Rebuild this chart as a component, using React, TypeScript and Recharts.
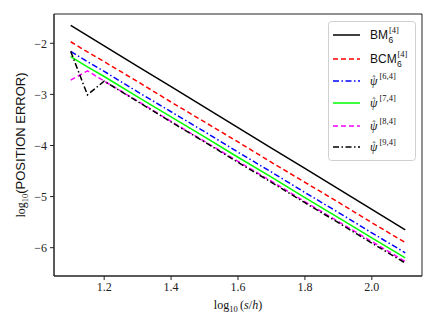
import React from "react";
import { LineChart, Line, XAxis, YAxis, ReferenceArea, Label } from "recharts";

// log10(s/h) sample points
const xs = [1.1, 1.15, 1.2, 1.3, 1.4, 1.5, 1.6, 1.7, 1.8, 1.9, 2.0, 2.1];

// log10(position error) per method
const bm = [-1.65, -1.85, -2.05, -2.45, -2.85, -3.25, -3.65, -4.05, -4.45, -4.85, -5.25, -5.65];
const bcm = [-1.97, -2.17, -2.36, -2.75, -3.15, -3.54, -3.93, -4.33, -4.72, -5.11, -5.51, -5.9];
const psi6 = [-2.16, -2.36, -2.55, -2.95, -3.34, -3.73, -4.13, -4.52, -4.92, -5.31, -5.71, -6.1];
const psi7 = [-2.26, -2.46, -2.65, -3.05, -3.44, -3.83, -4.23, -4.62, -5.02, -5.41, -5.81, -6.2];
const psi8 = [-2.72, -2.54, -2.74, -3.13, -3.53, -3.92, -4.31, -4.7, -5.1, -5.49, -5.88, -6.27];
const psi9 = [-2.16, -3.01, -2.74, -3.14, -3.54, -3.93, -4.33, -4.72, -5.12, -5.51, -5.91, -6.3];

const xTicks = [1.2, 1.4, 1.6, 1.8, 2.0];
const yTicks = [-6, -5, -4, -3, -2];

const SERIF = "'Liberation Serif', serif";
const SANS = "'Liberation Sans', sans-serif";

type Series = {
  key: string;
  color: string;
  dash?: string;
  values: number[];
  base: string; // main legend text
  sub?: string;
  sup: string;
  math: boolean;
};

const series: Series[] = [
  { key: "bm", color: "#000000", values: bm, base: "BM", sub: "6", sup: "[4]", math: false },
  { key: "bcm", color: "#ff0000", dash: "5 3", values: bcm, base: "BCM", sub: "6", sup: "[4]", math: false },
  { key: "psi6", color: "#0000ff", dash: "6 2.5 1.5 2.5", values: psi6, base: "ψ", sup: "[6,4]", math: true },
  { key: "psi7", color: "#00ff00", values: psi7, base: "ψ", sup: "[7,4]", math: true },
  { key: "psi8", color: "#ff00ff", dash: "5 3", values: psi8, base: "ψ", sup: "[8,4]", math: true },
  { key: "psi9", color: "#000000", dash: "6 2.5 1.5 2.5", values: psi9, base: "ψ", sup: "[9,4]", math: true },
];

const rows = xs.map((x, i) => {
  const r: Record<string, number> = { x };
  series.forEach((s) => (r[s.key] = s.values[i]));
  return r;
});

const fmtMinus = (v: number) => String(v).replace("-", "\u2212");

function XTitle(props: any) {
  const vb = props.viewBox || { x: 54, y: 276, width: 368 };
  return (
    <text x={vb.x + vb.width / 2} y={vb.y + 33} textAnchor="middle" fontFamily={SERIF} fontSize={12} fill="#111">
      <tspan>log</tspan>
      <tspan fontSize={8.5} dy={3}>10</tspan>
      <tspan dy={-3}>{"\u2009("}</tspan>
      <tspan fontStyle="italic">s</tspan>
      <tspan>/</tspan>
      <tspan fontStyle="italic">h</tspan>
      <tspan>)</tspan>
    </text>
  );
}

function YTitle(props: any) {
  const vb = props.viewBox || { x: 0, y: 14, height: 262 };
  const cx = 25;
  const cy = vb.y + vb.height / 2;
  return (
    <text x={cx} y={cy} textAnchor="middle" transform={`rotate(-90, ${cx}, ${cy})`} fontSize={12} fill="#111">
      <tspan fontFamily={SERIF}>log</tspan>
      <tspan fontFamily={SERIF} fontSize={8.5} dy={3}>10</tspan>
      <tspan fontFamily={SANS} fontSize={13} dy={-3}>(POSITION ERROR)</tspan>
    </text>
  );
}

// legend rows (centre y, relative to the legend box)
const legendY = [14, 38, 60, 82, 105, 126];

function LegendBox() {
  return (
    <svg width={88} height={140} style={{ position: "absolute", left: 328, top: 21 }}>
      <rect x={0.5} y={0.5} width={87} height={139} rx={3} fill="rgba(255,255,255,0.85)" stroke="#d0d0d0" />
      {series.map((s, i) => {
        const y = legendY[i];
        const baseW = s.math ? 9 : s.base.length === 2 ? 18.5 : 27;
        return (
          <g key={s.key}>
            <line x1={5} x2={32} y1={y} y2={y} stroke={s.color} strokeWidth={1.5} strokeDasharray={s.dash} />
            {s.math && (
              <text x={44.5} y={y + 1} fontSize={9} fill="#111" fontFamily={SERIF}>
                {"\u02C6"}
              </text>
            )}
            <text x={42} y={y + 4} fontSize={12} fill="#111" fontFamily={s.math ? SERIF : SANS}>
              <tspan fontStyle={s.math ? "italic" : "normal"}>{s.base}</tspan>
              {s.sub && (
                <tspan x={42 + baseW} y={y + 8} fontSize={8.5}>
                  {s.sub}
                </tspan>
              )}
              <tspan x={42 + baseW + 0.5} y={y - 2} fontSize={8.5} fontFamily={SERIF}>
                {s.sup}
              </tspan>
            </text>
          </g>
        );
      })}
    </svg>
  );
}

export default function App() {
  return (
    <div style={{ position: "absolute", left: 0, top: 0, width: 436, height: 327, background: "#fff" }}>
      <LineChart width={436} height={327} data={rows} margin={{ top: 14, right: 14, left: 0, bottom: 0 }}>
        <XAxis
          dataKey="x"
          type="number"
          domain={[1.05, 2.15]}
          ticks={xTicks}
          tickFormatter={(v: number) => v.toFixed(1)}
          height={51}
          tickSize={4}
          tick={{ fill: "#222", fontSize: 12, fontFamily: SERIF }}
          stroke="#222"
          allowDataOverflow
          label={<Label content={XTitle} />}
        />
        <YAxis
          type="number"
          domain={[-6.554, -1.427]}
          ticks={yTicks}
          tickFormatter={fmtMinus}
          width={54}
          tickSize={4}
          tickMargin={3}
          tick={{ fill: "#222", fontSize: 12, fontFamily: SERIF }}
          stroke="#222"
          allowDataOverflow
          label={<Label content={YTitle} />}
        />
        <ReferenceArea x1={1.05} x2={2.15} y1={-6.554} y2={-1.427} fill="none" stroke="#222" strokeWidth={1} ifOverflow="visible" />
        {series.map((s) => (
          <Line
            key={s.key}
            dataKey={s.key}
            type="linear"
            stroke={s.color}
            strokeWidth={1.5}
            strokeDasharray={s.dash}
            dot={false}
            activeDot={false}
            isAnimationActive={false}
          />
        ))}
      </LineChart>
      <LegendBox />
    </div>
  );
}
